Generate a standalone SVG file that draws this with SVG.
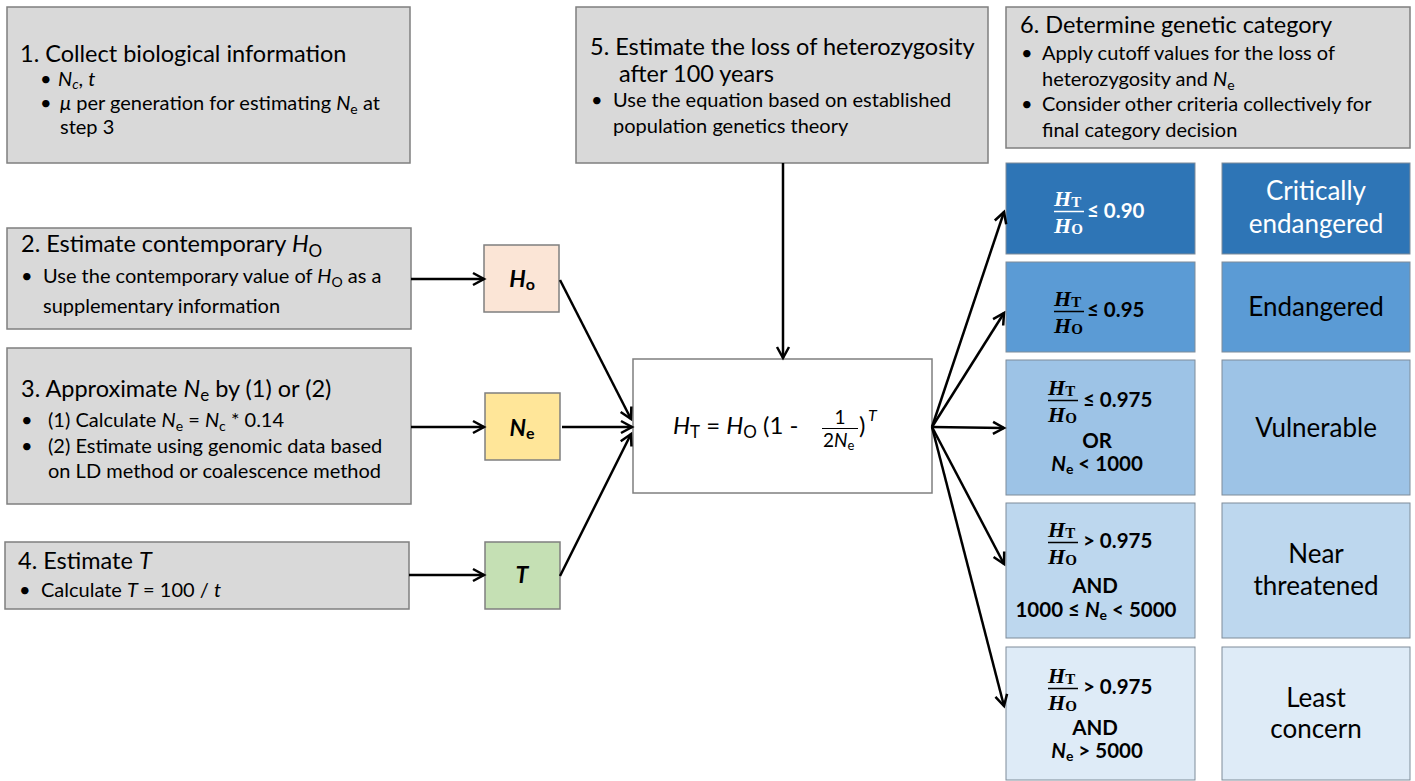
<svg xmlns="http://www.w3.org/2000/svg" width="1415" height="781" viewBox="0 0 1415 781">
<defs>
<style>
.box{fill:#D9D9D9;stroke:#7F7F7F;stroke-width:1.5}
.var{stroke:#7F7F7F;stroke-width:1.5}
.cat{stroke:#7F8C99;stroke-width:1}
.t{font-family:Lato,'Liberation Sans',sans-serif;fill:#000}
.h{font-size:23.5px}
.b{font-size:20px}
.i{font-style:italic}
.lab{font-size:26px;text-anchor:middle}
.cond{font-size:20.5px;font-weight:bold}
.m{font-family:'Liberation Serif','DejaVu Serif',serif;font-weight:bold;font-style:italic;font-size:22px}
.ms{font-family:'Liberation Serif','DejaVu Serif',serif;font-weight:bold;font-style:normal;font-size:15px}
.conn{stroke:#000;stroke-width:2.5;fill:none;marker-end:url(#arr)}
.w{fill:#fff}
</style>
<marker id="arr" markerUnits="userSpaceOnUse" markerWidth="16" markerHeight="16" refX="13" refY="8" orient="auto">
<path d="M2,2 L13,8 L2,14" fill="none" stroke="#000" stroke-width="2.5"/>
</marker>
</defs>
<rect width="1415" height="781" fill="#fff"/>

<g id="step1">
<rect class="box" x="7" y="7" width="403" height="156"/>
<text class="t h" x="20" y="62">1. Collect biological information</text>
<text class="t b" x="40" y="86">•</text>
<text class="t b" x="58" y="86"><tspan class="i">N</tspan><tspan class="i" font-size="14" dy="3">c</tspan><tspan dy="-3">, </tspan><tspan class="i">t</tspan></text>
<text class="t b" x="40" y="110">•</text>
<text class="t b" x="60" y="110"><tspan class="i">μ</tspan> per generation for estimating <tspan class="i">N</tspan><tspan font-size="14" dy="4">e</tspan><tspan dy="-4"> at</tspan></text>
<text class="t b" x="60" y="134">step 3</text>
</g>

<g id="step2">
<rect class="box" x="7" y="228" width="404" height="101"/>
<text class="t h" x="21" y="252">2. Estimate contemporary <tspan class="i">H</tspan><tspan font-size="17" dy="5">O</tspan></text>
<text class="t b" x="21" y="283">•</text>
<text class="t b" x="43" y="283">Use the contemporary value of <tspan class="i">H</tspan><tspan font-size="14" dy="4">O</tspan><tspan dy="-4"> as a</tspan></text>
<text class="t b" x="43" y="313">supplementary information</text>
</g>

<g id="step3">
<rect class="box" x="7" y="348" width="404" height="156"/>
<text class="t h" x="21" y="397">3. Approximate <tspan class="i">N</tspan><tspan font-size="17" dy="4">e</tspan><tspan dy="-4"> by (1) or (2)</tspan></text>
<text class="t b" x="21" y="427">•</text>
<text class="t b" x="48" y="427">(1) Calculate <tspan class="i">N</tspan><tspan font-size="14" dy="4">e</tspan><tspan dy="-4"> = </tspan><tspan class="i">N</tspan><tspan font-size="14" dy="4">c</tspan><tspan dy="-4"> * 0.14</tspan></text>
<text class="t b" x="21" y="453">•</text>
<text class="t b" x="48" y="453">(2) Estimate using genomic data based</text>
<text class="t b" x="48" y="478">on LD method or coalescence method</text>
</g>

<g id="step4">
<rect class="box" x="5" y="542" width="404" height="67"/>
<text class="t h" x="18" y="569">4. Estimate <tspan class="i">T</tspan></text>
<text class="t b" x="19" y="597">•</text>
<text class="t b" x="41" y="597">Calculate <tspan class="i">T</tspan> = 100 / <tspan class="i">t</tspan></text>
</g>

<g id="step5">
<rect class="box" x="576" y="7" width="412" height="156"/>
<text class="t h" x="590" y="55">5. Estimate the loss of heterozygosity</text>
<text class="t h" x="619" y="82">after 100 years</text>
<text class="t b" x="591" y="107">•</text>
<text class="t b" x="613" y="107">Use the equation based on established</text>
<text class="t b" x="613" y="133">population genetics theory</text>
</g>

<g id="step6">
<rect class="box" x="1006" y="7" width="404" height="141"/>
<text class="t h" x="1020" y="33">6. Determine genetic category</text>
<text class="t b" x="1021" y="60">•</text>
<text class="t b" x="1042" y="60">Apply cutoff values for the loss of</text>
<text class="t b" x="1042" y="86">heterozygosity and <tspan class="i">N</tspan><tspan font-size="14" dy="4">e</tspan></text>
<text class="t b" x="1021" y="111">•</text>
<text class="t b" x="1042" y="111">Consider other criteria collectively for</text>
<text class="t b" x="1042" y="137">final category decision</text>
</g>

<g id="Ho">
<rect class="var" x="484" y="245" width="75" height="67" fill="#FBE5D6"/>
<text class="t" x="522" y="287" text-anchor="middle" font-size="23" font-weight="bold"><tspan class="i">H</tspan><tspan font-size="16" dy="3">o</tspan></text>
</g>
<g id="Ne">
<rect class="var" x="485" y="393" width="75" height="67" fill="#FFE699"/>
<text class="t" x="522" y="436" text-anchor="middle" font-size="23" font-weight="bold"><tspan class="i">N</tspan><tspan font-size="16" dy="3">e</tspan></text>
</g>
<g id="T">
<rect class="var" x="485" y="542" width="75" height="67" fill="#C5E0B4"/>
<text class="t i" x="522" y="583" text-anchor="middle" font-size="23" font-weight="bold">T</text>
</g>

<g id="formula">
<rect class="var" x="633" y="359" width="299" height="134" fill="#fff"/>
<text class="t" x="673" y="434" font-size="24"><tspan class="i">H</tspan><tspan font-size="17" dy="4">T</tspan><tspan dy="-4"> = </tspan><tspan class="i">H</tspan><tspan font-size="17" dy="4">O</tspan><tspan dy="-4"> (1 - </tspan></text>
<text class="t" x="840" y="424" font-size="19" text-anchor="middle">1</text>
<line x1="822" y1="428.5" x2="858" y2="428.5" stroke="#000" stroke-width="1"/>
<text class="t" x="823" y="447" font-size="19">2<tspan class="i">N</tspan><tspan font-size="13" dy="3">e</tspan></text>
<text class="t" x="859" y="434" font-size="24">)</text>
<text class="t i" x="868" y="421" font-size="16">T</text>
</g>

<g id="cat1">
<rect class="cat" x="1006" y="163" width="189" height="91" fill="#2E75B6"/>
<rect class="cat" x="1222" y="163" width="188" height="91" fill="#2E75B6"/>
<text class="m w" x="1054" y="206">H<tspan class="ms w" dy="1">T</tspan></text>
<line x1="1054" y1="211.5" x2="1084" y2="211.5" stroke="#fff" stroke-width="1.5"/>
<text class="m w" x="1054" y="233">H<tspan class="ms w" dy="1">O</tspan></text>
<text class="t cond w" x="1087" y="218">≤ 0.90</text>
<text class="t lab w" x="1316" y="200">Critically</text>
<text class="t lab w" x="1316" y="233">endangered</text>
</g>
<g id="cat2">
<rect class="cat" x="1006" y="262" width="189" height="90" fill="#5B9BD5"/>
<rect class="cat" x="1222" y="262" width="188" height="90" fill="#5B9BD5"/>
<text class="m" x="1054" y="306">H<tspan class="ms" dy="1">T</tspan></text>
<line x1="1054" y1="311.5" x2="1084" y2="311.5" stroke="#000" stroke-width="1.5"/>
<text class="m" x="1054" y="333">H<tspan class="ms" dy="1">O</tspan></text>
<text class="t cond" x="1087" y="317">≤ 0.95</text>
<text class="t lab" x="1316" y="316">Endangered</text>
</g>
<g id="cat3">
<rect class="cat" x="1006" y="360" width="189" height="135" fill="#9DC3E6"/>
<rect class="cat" x="1222" y="360" width="188" height="135" fill="#9DC3E6"/>
<text class="m" x="1048" y="395">H<tspan class="ms" dy="1">T</tspan></text>
<line x1="1048" y1="400.5" x2="1078" y2="400.5" stroke="#000" stroke-width="1.5"/>
<text class="m" x="1048" y="422">H<tspan class="ms" dy="1">O</tspan></text>
<text class="t cond" x="1083" y="407">≤ 0.975</text>
<text class="t cond" x="1097" y="448" text-anchor="middle">OR</text>
<text class="t cond" x="1097" y="471" text-anchor="middle"><tspan class="i">N</tspan><tspan font-size="14" dy="3">e</tspan><tspan dy="-3"> &lt; 1000</tspan></text>
<text class="t lab" x="1316" y="437">Vulnerable</text>
</g>
<g id="cat4">
<rect class="cat" x="1006" y="503" width="189" height="135" fill="#BDD7EE"/>
<rect class="cat" x="1222" y="503" width="188" height="135" fill="#BDD7EE"/>
<text class="m" x="1048" y="537">H<tspan class="ms" dy="1">T</tspan></text>
<line x1="1048" y1="542.5" x2="1078" y2="542.5" stroke="#000" stroke-width="1.5"/>
<text class="m" x="1048" y="564">H<tspan class="ms" dy="1">O</tspan></text>
<text class="t cond" x="1083" y="548">&gt; 0.975</text>
<text class="t cond" x="1095" y="593" text-anchor="middle">AND</text>
<text class="t cond" x="1096" y="617" text-anchor="middle">1000 ≤ <tspan class="i">N</tspan><tspan font-size="14" dy="3">e</tspan><tspan dy="-3"> &lt; 5000</tspan></text>
<text class="t lab" x="1316" y="563">Near</text>
<text class="t lab" x="1316" y="595">threatened</text>
</g>
<g id="cat5">
<rect class="cat" x="1006" y="647" width="189" height="133" fill="#DEEBF7"/>
<rect class="cat" x="1222" y="647" width="188" height="133" fill="#DEEBF7"/>
<text class="m" x="1048" y="683">H<tspan class="ms" dy="1">T</tspan></text>
<line x1="1048" y1="688.5" x2="1078" y2="688.5" stroke="#000" stroke-width="1.5"/>
<text class="m" x="1048" y="710">H<tspan class="ms" dy="1">O</tspan></text>
<text class="t cond" x="1083" y="694">&gt; 0.975</text>
<text class="t cond" x="1095" y="735" text-anchor="middle">AND</text>
<text class="t cond" x="1097" y="758" text-anchor="middle"><tspan class="i">N</tspan><tspan font-size="14" dy="3">e</tspan><tspan dy="-3"> &gt; 5000</tspan></text>
<text class="t lab" x="1316" y="707">Least</text>
<text class="t lab" x="1316" y="738">concern</text>
</g>

<g id="connectors">
<path class="conn" d="M411,279 L484,279"/>
<path class="conn" d="M411,427 L484,427"/>
<path class="conn" d="M409,575 L484,575"/>
<path class="conn" d="M560,280 L631,419"/>
<path class="conn" d="M562,427 L632,427"/>
<path class="conn" d="M560,576 L631,434"/>
<path class="conn" d="M783,163 L783,358"/>
<path class="conn" d="M932,427 L1004,212"/>
<path class="conn" d="M932,427 L1004,313"/>
<path class="conn" d="M932,427 L1004,428"/>
<path class="conn" d="M932,427 L1004,564"/>
<path class="conn" d="M932,427 L1004,706"/>
</g>
</svg>
